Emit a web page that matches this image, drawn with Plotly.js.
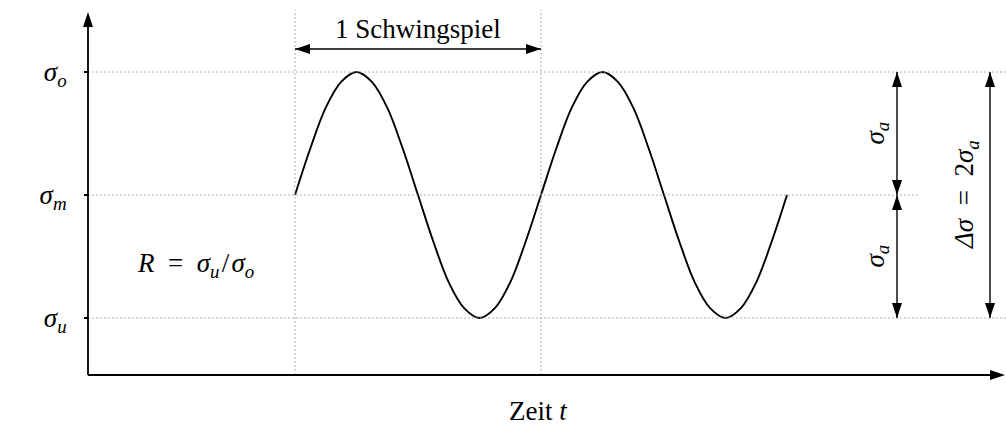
<!DOCTYPE html>
<html>
<head>
<meta charset="utf-8">
<script src="https://cdn.plot.ly/plotly-3.0.1.min.js"></script>
<style>html,body{margin:0;padding:0;background:#fff}</style>
</head>
<body>
<div id="chart" style="width:1006px;height:425px"></div>
<script>
// Load cycle: time in units of one Schwingspiel, stress normalised so that
// sigma_m = 0 and sigma_a = 1 (sigma_o = +1, sigma_u = -1).
const time = [0, 0.0625, 0.125, 0.1875, 0.25, 0.3125, 0.375, 0.4375, 0.5,
              0.5625, 0.625, 0.6875, 0.75, 0.8125, 0.875, 0.9375, 1,
              1.0625, 1.125, 1.1875, 1.25, 1.3125, 1.375, 1.4375, 1.5,
              1.5625, 1.625, 1.6875, 1.75, 1.8125, 1.875, 1.9375, 2];
const stress = [0, 0.38, 0.71, 0.92, 1, 0.92, 0.71, 0.38, 0,
                -0.38, -0.71, -0.92, -1, -0.92, -0.71, -0.38, 0,
                0.38, 0.71, 0.92, 1, 0.92, 0.71, 0.38, 0,
                -0.38, -0.71, -0.92, -1, -0.92, -0.71, -0.38, 0];
const levelValues = [1, 0, -1];
const levelLabels = ['<i>σ</i><sub><i>o</i></sub>', '<i>σ</i><sub><i>m</i></sub>', '<i>σ</i><sub><i>u</i></sub>'];
const cycleStart = 0, cycleEnd = 1;

// Page geometry (pixels)
const W = 1006, H = 425;
const M = {l: 70, r: 0, t: 0, b: 40};
const T0PX = 295, S0PX = 195;      // pixel position of t = 0 and sigma = 0
const PX_T = 246, PX_S = 123;      // pixels per cycle, pixels per amplitude
const tAt = px => (px - T0PX) / PX_T;
const sAt = py => (S0PX - py) / PX_S;
const xRange = [tAt(M.l), tAt(W - M.r)];
const yRange = [sAt(H - M.b), sAt(M.t)];

const FONT = 'Liberation Serif, Times New Roman, serif';
const FS = 27;
const originT = tAt(88), originS = sAt(375);
const axisTopS = sAt(12), axisEndT = tAt(1005);
const sMax = levelValues[0], sMid = levelValues[1], sMin = levelValues[2];
const ampArrowT = tAt(897), rangeArrowT = tAt(990), midLineEndT = tAt(918);
const cycleArrowS = sAt(49);

// Filled arrow head with its tip at (t, s)
function head(t, s, dir, len, half) {
  len = len || 15; half = half || 5;
  const lt = len / PX_T, ls = len / PX_S, ht = half / PX_T, hs = half / PX_S;
  let p;
  if (dir === 'up')    p = [[t, s], [t - ht, s - ls], [t + ht, s - ls]];
  if (dir === 'down')  p = [[t, s], [t - ht, s + ls], [t + ht, s + ls]];
  if (dir === 'left')  p = [[t, s], [t + lt, s - hs], [t + lt, s + hs]];
  if (dir === 'right') p = [[t, s], [t - lt, s - hs], [t - lt, s + hs]];
  return {type: 'path', xref: 'x', yref: 'y', layer: 'above',
          path: 'M' + p.map(q => q[0] + ',' + q[1]).join('L') + 'Z',
          fillcolor: '#000', line: {width: 0}};
}
function line(t1, s1, t2, s2, w, dash, color) {
  return {type: 'line', xref: 'x', yref: 'y', layer: 'above',
          x0: t1, y0: s1, x1: t2, y1: s2,
          line: {color: color || '#000', width: w || 1.2, dash: dash || 'solid'}};
}
const GRID = '#a0a0a0', GD = '2px,2px';

const shapes = [
  // guide lines
  line(originT, sMax, xRange[1], sMax, 0.8, GD, GRID),
  line(originT, sMid, midLineEndT, sMid, 0.8, GD, GRID),
  line(originT, sMin, xRange[1], sMin, 0.8, GD, GRID),
  line(cycleStart, originS, cycleStart, sAt(10), 0.8, GD, GRID),
  line(cycleEnd, originS, cycleEnd, sAt(10), 0.8, GD, GRID),
  // axes
  line(originT, originS, originT, axisTopS - 0.05, 1.8),
  line(originT, originS, axisEndT - 0.03, originS, 1.8),
  head(originT, axisTopS, 'up', 15, 5),
  head(axisEndT, originS, 'right', 15, 5),
  // one load cycle
  line(cycleStart, cycleArrowS, cycleEnd, cycleArrowS, 1.4),
  head(cycleStart, cycleArrowS, 'left'),
  head(cycleEnd, cycleArrowS, 'right'),
  // amplitude arrows
  line(ampArrowT, sMax, ampArrowT, sMin, 1.4),
  head(ampArrowT, sMax, 'up'),
  head(ampArrowT, sMid, 'down'),
  head(ampArrowT, sMid, 'up'),
  head(ampArrowT, sMin, 'down'),
  // stress range arrow
  line(rangeArrowT, sMax, rangeArrowT, sMin, 1.4),
  head(rangeArrowT, sMax, 'up'),
  head(rangeArrowT, sMin, 'down')
];

const txt = (x, y, text, extra) => Object.assign({
  x: x, y: y, xref: 'x', yref: 'y', text: text, showarrow: false,
  font: {family: FONT, size: FS, color: '#000'}, xanchor: 'center', yanchor: 'middle'
}, extra || {});

const annotations = [
  txt(0.5, sAt(29), '1 Schwingspiel'),
  txt(ampArrowT, (sMax + sMid) / 2, '<i>σ</i><sub><i>a</i></sub>', {xshift: -21, textangle: -90}),
  txt(ampArrowT, (sMid + sMin) / 2, '<i>σ</i><sub><i>a</i></sub>', {xshift: -21, textangle: -90}),
  txt(rangeArrowT, sMid, '<i>Δσ</i>&nbsp;&nbsp;=&nbsp;&nbsp;2<i>σ</i><sub><i>a</i></sub>', {xshift: -24, textangle: -90}),
  txt(tAt(195), sAt(265), '<i>R</i>&nbsp;&nbsp;=&nbsp;&nbsp;<i>σ</i><sub><i>u</i></sub>&#8202;/&#8202;<i>σ</i><sub><i>o</i></sub>'),
  // axis titles
  {x: 0.5, y: 0, xref: 'paper', yref: 'paper', yshift: -(411 - (H - M.b)),
   text: 'Zeit <i>t</i>', showarrow: false, yanchor: 'middle',
   font: {family: FONT, size: FS, color: '#000'}},
  {x: tAt(20), y: sMid, xref: 'x', yref: 'y', text: 'Spannung <i>σ</i>', showarrow: false,
   textangle: -90, font: {family: FONT, size: FS, color: '#000'}}
];

const data = [{
  x: time, y: stress, type: 'scatter', mode: 'lines',
  line: {color: '#000', width: 1.9, shape: 'spline', smoothing: 1},
  hoverinfo: 'skip'
}];

const layout = {
  width: W, height: H,
  margin: M,
  paper_bgcolor: '#fff', plot_bgcolor: '#fff',
  showlegend: false,
  xaxis: {range: xRange, showgrid: false, zeroline: false, showline: false,
          showticklabels: false, ticks: '', fixedrange: true},
  yaxis: {range: yRange, showgrid: false, zeroline: false, showline: false,
          anchor: 'free', position: (88 - M.l) / (W - M.l - M.r),
          tickmode: 'array', tickvals: levelValues, ticktext: levelLabels,
          ticks: 'outside', ticklen: 4, tickwidth: 2, tickcolor: '#000',
          ticklabelstandoff: 12,
          tickfont: {family: FONT, size: FS, color: '#000'}, fixedrange: true},
  shapes: shapes,
  annotations: annotations
};

Plotly.newPlot('chart', data, layout, {staticPlot: true, displayModeBar: false});
</script>
</body>
</html>
